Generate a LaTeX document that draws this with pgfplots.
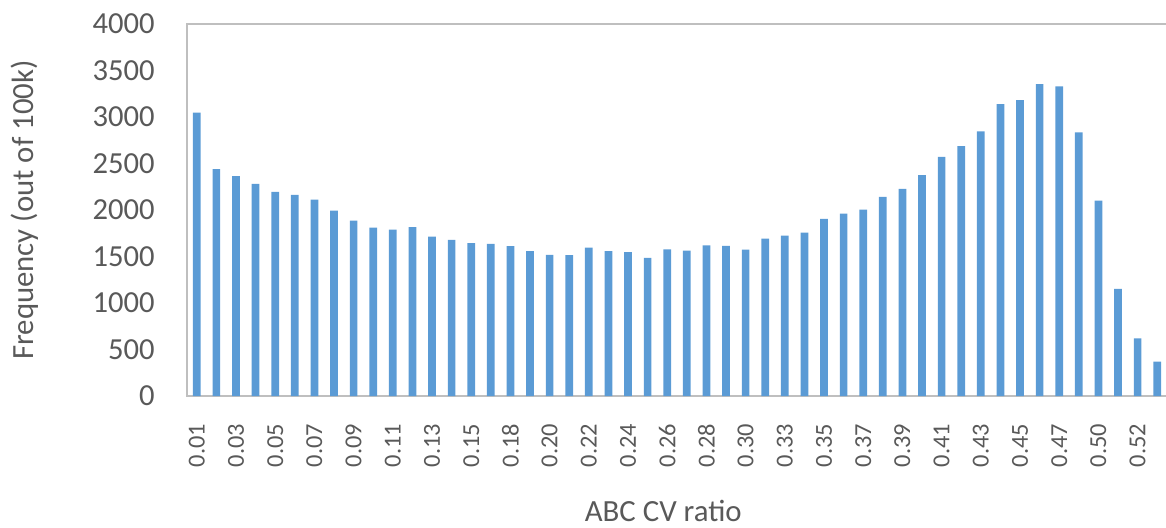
\documentclass[border=0pt]{standalone}
\usepackage{fontspec}
\setmainfont{Carlito}
\usepackage{pgfplots}
\pgfplotsset{compat=1.18}
\definecolor{barblue}{HTML}{5B9BD5}
\definecolor{txtgray}{HTML}{595959}
\definecolor{axgray}{HTML}{BFBFBF}
\begin{document}
\begin{tikzpicture}
\begin{axis}[
  at={(0pt,0pt)}, anchor=south west,
  scale only axis, width=490pt, height=186pt,
  ybar, bar width=3.85pt,
  xmin=0.5, xmax=50.5, ymin=0, ymax=4000,
  ytick={0,500,...,4000},
  xtick={1,3,...,49},
  xticklabels={0.01,0.03,0.05,0.07,0.09,0.11,0.13,0.15,0.18,0.20,0.22,0.24,0.26,0.28,0.30,0.33,0.35,0.37,0.39,0.41,0.43,0.45,0.47,0.50,0.52},
  tick style={draw=none},
  axis line style={axgray, line width=0.75pt},
  /pgf/number format/assume math mode=true,
  /pgf/number format/1000 sep={},
  yticklabel style={font=\fontsize{15.3pt}{18pt}\selectfont, text=txtgray, inner sep=0pt},
  yticklabel shift=16pt,
  xticklabel style={font=\fontsize{12.2pt}{14pt}\selectfont, text=txtgray, inner sep=0pt, rotate=90, anchor=east},
  xticklabel shift=9.5pt,
  every axis x label/.style={at={(axis description cs:0.486,-0.309)}, anchor=center},
  every axis y label/.style={at={(axis description cs:-0.1653,0.5)}, rotate=90, anchor=center},
  label style={font=\fontsize{15.4pt}{18pt}\selectfont, text=txtgray},
  xlabel={ABC CV ratio},
  ylabel={Frequency (out of 100k)},
]
\addplot[fill=barblue, draw=none] coordinates {
(1,3046) (2,2439) (3,2364) (4,2281) (5,2195) (6,2163) (7,2113) (8,1994) (9,1887) (10,1811)
(11,1790) (12,1815) (13,1715) (14,1679) (15,1643) (16,1636) (17,1611) (18,1557) (19,1517) (20,1514)
(21,1596) (22,1557) (23,1546) (24,1485) (25,1578) (26,1564) (27,1621) (28,1614) (29,1575) (30,1693)
(31,1725) (32,1758) (33,1905) (34,1962) (35,2005) (36,2141) (37,2228) (38,2375) (39,2572) (40,2687)
(41,2845) (42,3139) (43,3182) (44,3354) (45,3329) (46,2834) (47,2102) (48,1151) (49,621) (50,369)
};
\end{axis}
\pgfresetboundingbox
\path (-93.5pt,-65.5pt) rectangle (489.5pt,198pt);
\end{tikzpicture}
\end{document}
